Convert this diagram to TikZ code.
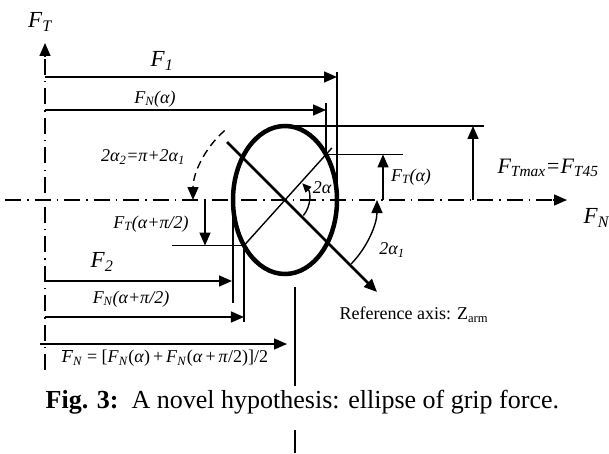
\documentclass[tikz,border=0pt]{standalone}
\usepackage{fontspec}
\setmainfont{Liberation Serif}
\usetikzlibrary{arrows.meta,calc}
\newcommand{\Fsub}[1]{\textit{F}\textsubscript{\textit{#1}}}
\tikzset{
  arr/.style={-{Triangle[length=13pt,width=11pt]}},
  arrsmall/.style={-{Triangle[length=9pt,width=8pt]}},
  axisline/.style={line width=1.4pt, dash pattern=on 16pt off 6pt on 1.5pt off 6pt},
  dashedarc/.style={line width=1.4pt, dash pattern=on 8pt off 5pt},
  lbl/.style={inner sep=0pt, font=\fontsize{18}{21}\selectfont\itshape},
  big/.style={inner sep=0pt, font=\fontsize{23}{26}\selectfont\itshape},
}
\begin{document}
\begin{tikzpicture}[x=1pt,y=1pt,line width=1.4pt]
\useasboundingbox (0,0) rectangle (609,453);
\coordinate (c) at (285,253);
% axes
\coordinate (vbot) at (45,83);
\coordinate (vtop) at (45,396);
\coordinate (vtip) at (45,410);
\draw[axisline] (vbot) -- (vtop);
\draw[arr] (vtop) -- (vtip);
\coordinate (hl) at (5,253);
\coordinate (hr) at (553,253);
\coordinate (htip) at (567,253);
\draw[axisline] (hl) -- (hr);
\draw[arr] (hr) -- (htip);
% ellipse and axes through it
\draw[line width=4.5pt] (c) ellipse [x radius=52pt, y radius=74pt];
\coordinate (ra1) at (227,311);
\coordinate (ra2) at (377,161);
\draw[line width=2.6pt,arr] (ra1) -- (ra2);
\coordinate (d1) at ($(c)+(228:62)$);
\coordinate (d2) at ($(c)+(48:70)$);
\draw (d1) -- (d2);
\coordinate (P1) at ($(c)+(48:61.3)$);
\coordinate (P2) at ($(c)+(228:61.3)$);
% F1
\coordinate (f1a) at (45,376);
\coordinate (f1b) at (337,376);
\draw[arr] (f1a) -- (f1b);
\coordinate (rt1) at (337,381);
\coordinate (rt0) at (337,253);
\draw (rt1) -- (rt0);
% FN(alpha)
\coordinate (fnaT) at (0,350);
\coordinate (fna0) at (45,343);
\coordinate (fnaY) at (0,343);
\draw (P1 |- fnaT) -- (P1);
\draw[arr] (fna0) -- (P1 |- fnaY);
% FT(alpha)
\coordinate (ftaR) at (403,0);
\draw (P1) -- (P1 -| ftaR);
\coordinate (fta0) at (383,253);
\draw[arr] (fta0) -- (fta0 |- P1);
% FTmax
\coordinate (tm0) at (285,327);
\coordinate (tm1) at (484,327);
\draw (tm0) -- (tm1);
\coordinate (tma) at (473,253);
\coordinate (tmb) at (473,327);
\draw[arr] (tma) -- (tmb);
% FT(alpha+pi/2)
\coordinate (ftbL) at (172,0);
\draw (P2 -| ftbL) -- (P2);
\coordinate (ftb0) at (205,253);
\draw[arr] (ftb0) -- (ftb0 |- P2);
% F2
\coordinate (lt0) at (233,253);
\coordinate (lt1) at (233,150);
\draw (lt0) -- (lt1);
\coordinate (f2a) at (45,172);
\coordinate (f2b) at (232,172);
\draw[arr] (f2a) -- (f2b);
% FN(alpha+pi/2)
\coordinate (fnbB) at (0,131);
\draw (P2) -- (P2 |- fnbB);
\coordinate (fnb0) at (45,136);
\coordinate (fnbY) at (0,136);
\draw[arr] (fnb0) -- (P2 |- fnbY);
% mean
\coordinate (mn0) at (40,109);
\coordinate (mn1) at (287,109);
\draw[arr] (mn0) -- (mn1);
\coordinate (mv0) at (295,166);
\coordinate (mv1) at (295,67);
\draw (mv0) -- (mv1);
\coordinate (mv2) at (295,23);
\coordinate (mv3) at (295,0);
\draw (mv2) -- (mv3);
% angle arcs
\draw[arrsmall] ($(c)+(-40:24)$) arc[start angle=-40, end angle=44, radius=24pt];
\draw[arr] ($(c)+(-44:92)$) arc[start angle=-44, end angle=0, radius=92pt];
\draw[dashedarc,arr] ($(c)+(131:92)$) arc[start angle=131, end angle=180, radius=92pt];
% labels
\node[big] (lFT) at (40,431) {F\textsubscript{T}};
\node[big] (lFN) [anchor=west] at (583,235) {F\textsubscript{N}};
\node[big] (lF1) at (162,392) {F\textsubscript{1}};
\node[big] (lF2) at (102,191) {F\textsubscript{2}};
\node[lbl] (lFNa) at (155,354) {F\textsubscript{N}(α)};
\node[lbl] (lal2) at (143,296) {2α\textsubscript{2}=π+2α\textsubscript{1}};
\node[lbl] (lFTb) at (151,229) {F\textsubscript{T}(α+π/2)};
\node[lbl] (lFNb) at (131,154) {F\textsubscript{N}(α+π/2)};
\node[lbl] (lFTa) at (411,276) {F\textsubscript{T}(α)};
\node[lbl] (l2a) at (322,265) {2α};
\node[lbl] (l2a1) at (392,203) {2α\textsubscript{1}};
\node[big, font=\fontsize{22}{26}\selectfont\itshape] (lFTm) at (548,285) {F\textsubscript{Tmax}=F\textsubscript{T45}};
\node[inner sep=0pt, font=\fontsize{18}{21}\selectfont, anchor=west] (lref) at (339,138) {Reference axis: Z\textsubscript{arm}};
\node[lbl, font=\fontsize{18}{21}\selectfont] (lmean) at (165,95) {$\overline{\mbox{\textit{F}}}$\textsubscript{\textit{N}} = [\Fsub{N}(\textit{α})\,+\,\Fsub{N}(\textit{α}\,+\,\textit{π}/2)]/2};
\node[inner sep=0pt, font=\fontsize{26}{30}\selectfont, anchor=west] (cap) at (45,51) {\textbf{Fig. 3:}\ \ A novel hypothesis: ellipse of grip force.};
\end{tikzpicture}
\end{document}
